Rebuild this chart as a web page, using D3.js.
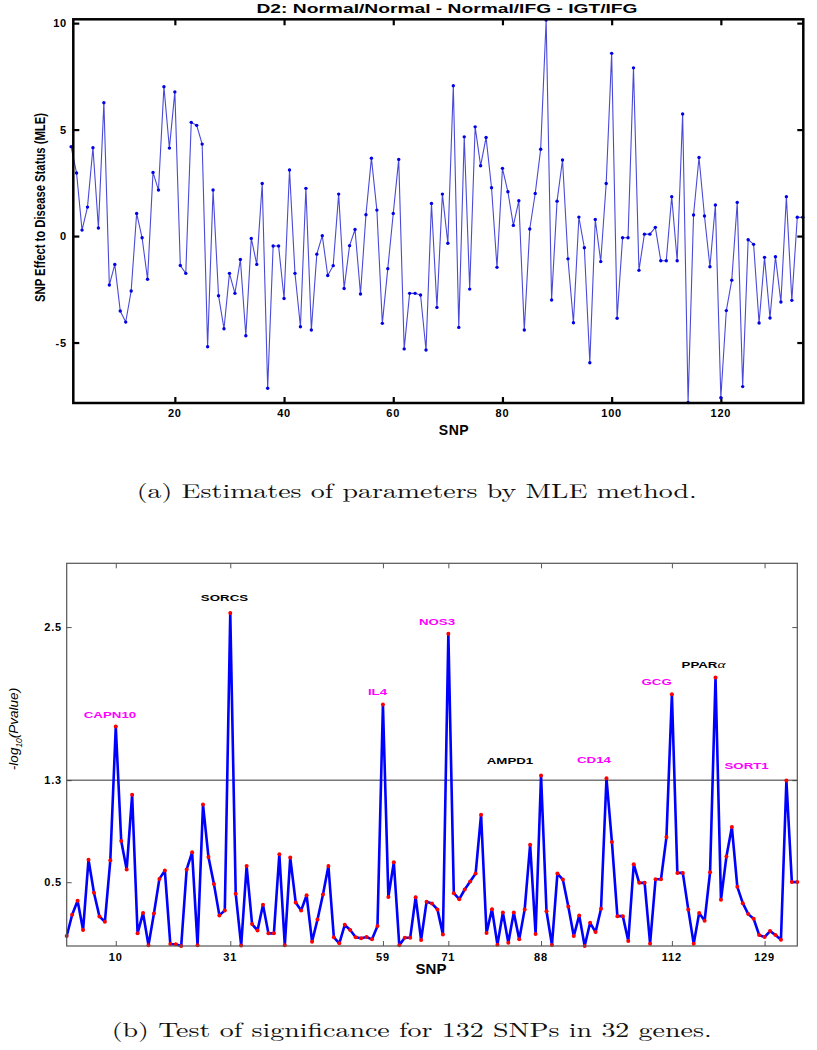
<!DOCTYPE html>
<html><head><meta charset="utf-8">
<script src="https://cdn.jsdelivr.net/npm/d3@7"></script>
<style>body{margin:0;background:#fff} svg{display:block}</style>
</head><body><svg id="c" width="817" height="1050"></svg>
<script>
// ---------- data ----------
const snpIndex = d3.range(1, 136);
const mleValues = [4.2,2.96,0.28,1.36,4.15,0.38,6.26,-2.3,-1.33,-3.52,
 -4.04,-2.58,1.06,-0.08,-2.03,2.99,2.16,7.01,4.13,6.77,
 -1.38,-1.75,5.34,5.2,4.32,-5.2,2.16,-2.8,-4.35,-1.75,
 -2.69,-1.1,-4.68,-0.11,-1.33,2.47,-7.15,-0.47,-0.47,-2.93,
 3.1,-1.75,-4.26,2.24,-4.41,-0.85,0.02,-1.85,-1.39,1.97,
 -2.46,-0.45,0.31,-2.72,1.0,3.66,1.22,-4.1,-1.53,1.06,
 3.6,-5.3,-2.69,-2.69,-2.77,-5.35,1.53,-3.35,1.97,-0.34,
 7.06,-4.29,4.66,-2.49,5.13,3.3,4.63,2.27,-1.47,3.18,
 2.08,0.5,1.66,-4.41,0.33,2.0,4.08,10.15,-3.0,1.64,
 3.57,-1.07,-4.07,0.89,-0.55,-5.95,0.78,-1.2,2.47,8.58,
 -3.86,-0.08,-0.08,7.9,-1.61,0.09,0.09,0.41,-1.16,-1.16,
 1.85,-1.16,5.73,-7.82,0.99,3.69,0.94,-1.44,1.46,-7.59,
 -3.5,-2.07,1.58,-7.07,-0.17,-0.39,-4.08,-1.0,-3.85,-0.97,
 -3.1,1.85,-3.02,0.88,0.88];
const negLogP = [0.078,0.245,0.354,0.125,0.677,0.417,0.232,0.19,0.672,1.72,
 0.823,0.60,1.185,0.099,0.258,0.005,0.255,0.526,0.591,0.016,
 0.013,0.0,0.60,0.734,0.005,1.109,0.698,0.487,0.24,0.279,
 2.61,0.409,0.003,0.627,0.172,0.122,0.323,0.099,0.099,0.719,
 0.005,0.693,0.341,0.279,0.398,0.034,0.208,0.404,0.627,0.068,
 0.021,0.166,0.125,0.068,0.06,0.07,0.052,0.156,1.893,0.385,
 0.656,0.005,0.065,0.065,0.383,0.047,0.346,0.333,0.287,0.091,
 2.448,0.414,0.367,0.443,0.505,0.568,1.029,0.102,0.289,0.01,
 0.263,0.026,0.263,0.052,0.287,0.794,0.094,1.336,0.273,0.008,
 0.568,0.521,0.31,0.078,0.24,0.0,0.182,0.109,0.292,1.315,
 0.815,0.234,0.234,0.039,0.641,0.495,0.495,0.018,0.523,0.523,
 0.854,1.974,0.573,0.573,0.287,0.018,0.258,0.198,0.578,2.104,
 0.362,0.701,0.932,0.464,0.336,0.25,0.213,0.086,0.07,0.117,
 0.086,0.049,1.297,0.502,0.502];
const topXTicks = [20, 40, 60, 80, 100, 120];
const topYTicks = [-5, 0, 5, 10];
const botXTicks = [10, 31, 59, 71, 88, 112, 129];
const botYTicks = [0.5, 1.3, 2.5];
const threshold = 1.3;
const geneLabels = ["CAPN10","SORCS","IL4","NOS3","AMPD1","CD14","GCG","PPAR","SORT1"];
const geneSuffix = ["","","","","","","","α",""];
const geneSnp = [8.94, 29.94, 58.0, 68.92, 82.3, 97.7, 109.2, 117.8, 125.7];
const geneLevel = [1.79, 2.708, 1.971, 2.515, 1.423, 1.436, 2.044, 2.18, 1.386];
const geneHighlight = [true,false,true,true,false,true,true,false,true];
const topTitle = "D2: Normal/Normal - Normal/IFG - IGT/IFG";
const topYLabel = "SNP Effect to Disease Status (MLE)";
const captionA = "(a) Estimates of parameters by MLE method.";
const captionB = "(b) Test of significance for 132 SNPs in 32 genes.";

// ---------- drawing ----------
const svg = d3.select("#c");
const SANS = "'Liberation Sans', Arial, sans-serif";
const SERIF = "'Latin Modern Roman','CMU Serif','Liberation Serif','DejaVu Serif',serif";

// ===== top chart =====
const T = {l: 73.3, r: 803.3, t: 19.3, b: 403};
const xT = d3.scaleLinear().domain([1.4, 135.1]).range([T.l, T.r]);
const yT = d3.scaleLinear().domain([-7.84, 10.18]).range([T.b, T.t]);
const gT = svg.append("g");

function styleAxis(g, w, col) {
  g.select(".domain").remove();
  g.selectAll(".tick line").attr("stroke", col).attr("stroke-width", w);
}
// inward ticks on all four sides
gT.append("g").attr("transform", `translate(0,${T.b})`)
  .call(d3.axisBottom(xT).tickValues(topXTicks).tickSize(-6).tickFormat(""))
  .call(g => styleAxis(g, 2.2, "#000"));
gT.append("g").attr("transform", `translate(0,${T.t})`)
  .call(d3.axisTop(xT).tickValues(topXTicks).tickSize(-6).tickFormat(""))
  .call(g => styleAxis(g, 2.2, "#000"));
gT.append("g").attr("transform", `translate(${T.l},0)`)
  .call(d3.axisLeft(yT).tickValues(topYTicks).tickSize(-6).tickFormat(""))
  .call(g => styleAxis(g, 2.2, "#000"));
gT.append("g").attr("transform", `translate(${T.r},0)`)
  .call(d3.axisRight(yT).tickValues(topYTicks).tickSize(-6).tickFormat(""))
  .call(g => styleAxis(g, 2.2, "#000"));

// series
const topData = snpIndex.map((s, i) => ({s, v: mleValues[i]}));
gT.append("path").datum(topData)
  .attr("fill", "none").attr("stroke", "#4a4ad8").attr("stroke-width", 1.1)
  .attr("d", d3.line().x(d => xT(d.s)).y(d => yT(d.v)));
gT.selectAll("circle.m").data(topData).join("circle").attr("class", "m")
  .attr("cx", d => xT(d.s)).attr("cy", d => yT(d.v)).attr("r", 1.7)
  .attr("fill", "#0000e6");

// frame
gT.append("rect").attr("x", T.l).attr("y", T.t)
  .attr("width", T.r - T.l).attr("height", T.b - T.t)
  .attr("fill", "none").attr("stroke", "#000").attr("stroke-width", 2.5);

// tick labels
gT.selectAll("text.xt").data(topXTicks).join("text").attr("class", "xt")
  .attr("x", d => xT(d)).attr("y", 417)
  .attr("text-anchor", "middle").attr("font-family", SANS).attr("font-weight", "bold")
  .attr("font-size", 11).attr("letter-spacing", 0.8).text(d => d);
gT.selectAll("text.yt").data(topYTicks).join("text").attr("class", "yt")
  .attr("x", 67).attr("y", d => yT(d) + 4)
  .attr("text-anchor", "end").attr("font-family", SANS).attr("font-weight", "bold")
  .attr("font-size", 11).attr("letter-spacing", 0.8).text(d => d);
gT.append("text").attr("x", 454).attr("y", 435).attr("text-anchor", "middle")
  .attr("font-family", SANS).attr("font-weight", "bold").attr("font-size", 14)
  .attr("letter-spacing", 0.6).text("SNP");
gT.append("text").attr("x", 447).attr("y", 12.7).attr("text-anchor", "middle")
  .attr("font-family", SANS).attr("font-weight", "bold").attr("font-size", 13.5)
  .attr("textLength", 381).attr("lengthAdjust", "spacingAndGlyphs").text(topTitle);
gT.append("text").attr("transform", "translate(44.5,207.5) rotate(-90)")
  .attr("text-anchor", "middle")
  .attr("font-family", "'Liberation Sans Narrow','Arial Narrow'," + SANS)
  .attr("font-weight", "bold").attr("font-size", 14.5)
  .attr("textLength", 189).attr("lengthAdjust", "spacingAndGlyphs").text(topYLabel);

// caption a
svg.append("text").attr("x", 136.7).attr("y", 498.3)
  .attr("font-family", SERIF).attr("font-size", 20).attr("fill", "#111")
  .attr("textLength", 560).attr("lengthAdjust", "spacingAndGlyphs").text(captionA);

// ===== bottom chart =====
const B = {l: 66.7, r: 797.3, t: 563.3, b: 946};
const xB = d3.scaleLinear().domain([1, 135]).range([B.l, B.r]);
const yB = d3.scaleLinear().domain([0, 3]).range([B.b, B.t]);
const gB = svg.append("g");
const FR = "#555";

gB.append("g").attr("transform", `translate(0,${B.b})`)
  .call(d3.axisBottom(xB).tickValues(botXTicks).tickSize(-5).tickFormat(""))
  .call(g => styleAxis(g, 1, FR));
gB.append("g").attr("transform", `translate(0,${B.t})`)
  .call(d3.axisTop(xB).tickValues(botXTicks).tickSize(-5).tickFormat(""))
  .call(g => styleAxis(g, 1, FR));
gB.append("g").attr("transform", `translate(${B.l},0)`)
  .call(d3.axisLeft(yB).tickValues(botYTicks).tickSize(-5).tickFormat(""))
  .call(g => styleAxis(g, 1, FR));
gB.append("g").attr("transform", `translate(${B.r},0)`)
  .call(d3.axisRight(yB).tickValues(botYTicks).tickSize(-5).tickFormat(""))
  .call(g => styleAxis(g, 1, FR));

// threshold line
gB.append("line").attr("x1", B.l).attr("x2", B.r)
  .attr("y1", yB(threshold)).attr("y2", yB(threshold))
  .attr("stroke", "#333").attr("stroke-width", 1);

const botData = snpIndex.map((s, i) => ({s, v: negLogP[i]}));
gB.append("path").datum(botData)
  .attr("fill", "none").attr("stroke", "#0000ff").attr("stroke-width", 2.6)
  .attr("stroke-linejoin", "round")
  .attr("d", d3.line().x(d => xB(d.s)).y(d => yB(d.v)));
gB.selectAll("circle.m").data(botData).join("circle").attr("class", "m")
  .attr("cx", d => xB(d.s)).attr("cy", d => yB(d.v)).attr("r", 2)
  .attr("fill", "#ff0000");

gB.append("rect").attr("x", B.l).attr("y", B.t)
  .attr("width", B.r - B.l).attr("height", B.b - B.t)
  .attr("fill", "none").attr("stroke", FR).attr("stroke-width", 1.2);

gB.selectAll("text.xt").data(botXTicks).join("text").attr("class", "xt")
  .attr("x", d => xB(d)).attr("y", 961)
  .attr("text-anchor", "middle").attr("font-family", SANS).attr("font-weight", "bold")
  .attr("font-size", 11).attr("letter-spacing", 0.8).text(d => d);
gB.selectAll("text.yt").data(botYTicks).join("text").attr("class", "yt")
  .attr("x", 62).attr("y", d => yB(d) + 4)
  .attr("text-anchor", "end").attr("font-family", SANS).attr("font-weight", "bold")
  .attr("font-size", 11).attr("letter-spacing", 0.8).text(d => d3.format(".1f")(d));
gB.append("text").attr("x", 431).attr("y", 974).attr("text-anchor", "middle")
  .attr("font-family", SANS).attr("font-weight", "bold").attr("font-size", 15)
  .text("SNP");
const yl = gB.append("text").attr("transform", "translate(18,729) rotate(-90)")
  .attr("text-anchor", "middle").attr("font-family", SANS)
  .attr("font-style", "italic").attr("font-size", 13.5);
yl.append("tspan").text("-log");
yl.append("tspan").attr("font-size", 8.5).attr("dy", 4).text("10");
yl.append("tspan").attr("dy", -4).text("(Pvalue)");

// gene labels
geneLabels.forEach((name, i) => {
  const t = gB.append("text")
    .attr("transform", `translate(${xB(geneSnp[i])},${yB(geneLevel[i])}) scale(1.4,1)`)
    .attr("text-anchor", "middle").attr("font-family", SANS).attr("font-weight", "bold")
    .attr("font-size", 9.5).attr("fill", geneHighlight[i] ? "#ff00ff" : "#000");
  t.append("tspan").text(name);
  if (geneSuffix[i]) t.append("tspan").attr("font-family", SERIF)
    .attr("font-weight", "normal").attr("font-style", "italic").attr("font-size", 11).text(geneSuffix[i]);
});

// caption b
svg.append("text").attr("x", 111.7).attr("y", 1036.5)
  .attr("font-family", SERIF).attr("font-size", 20).attr("fill", "#111")
  .attr("textLength", 600).attr("lengthAdjust", "spacingAndGlyphs").text(captionB);
</script>
</body></html>
